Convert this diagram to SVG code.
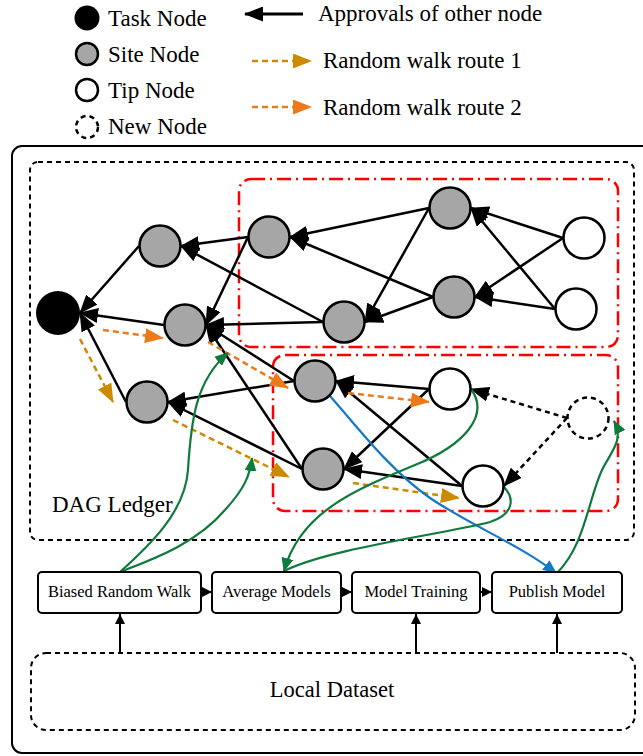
<svg xmlns="http://www.w3.org/2000/svg" width="643" height="756" viewBox="0 0 643 756">
<style>
text{font-family:"Liberation Serif","Times New Roman",serif;fill:#000}
.lg{font-size:23px}
.bx{font-size:16.5px}
.site{fill:#a6a6a6;stroke:#000;stroke-width:2.5}
.tip{fill:#fff;stroke:#000;stroke-width:2.5}
.newn{fill:#fff;stroke:#000;stroke-width:2.5;stroke-dasharray:5 4}
.ap{stroke:#000;stroke-width:2.5;fill:none;marker-end:url(#ah)}
.apd{stroke:#000;stroke-width:2.5;fill:none;stroke-dasharray:5 4;marker-end:url(#ah)}
.r1{stroke:#cc8a00;stroke-width:2.5;fill:none;stroke-dasharray:6 4;marker-end:url(#a1)}
.r2{stroke:#ec7a1a;stroke-width:2.5;fill:none;stroke-dasharray:6 4;marker-end:url(#a2)}
.gr{stroke:#0e7a3c;stroke-width:2.2;fill:none}
.bl{stroke:#1478c8;stroke-width:2.2;fill:none}
.red{fill:none;stroke:#ff0000;stroke-width:2.5;stroke-dasharray:14 5 2 5}
.box{fill:#fff;stroke:#000;stroke-width:2}
.sm{stroke:#000;stroke-width:2;fill:none;marker-end:url(#as)}
</style>
<defs>
<marker id="ah" markerUnits="userSpaceOnUse" markerWidth="19" markerHeight="15" refX="18" refY="7.5" orient="auto"><path d="M0,0 L19,7.5 L0,15 z" fill="#000"/></marker>
<marker id="a1" markerUnits="userSpaceOnUse" markerWidth="19" markerHeight="15" refX="18" refY="7.5" orient="auto"><path d="M0,0 L19,7.5 L0,15 z" fill="#cc8a00"/></marker>
<marker id="a2" markerUnits="userSpaceOnUse" markerWidth="19" markerHeight="15" refX="18" refY="7.5" orient="auto"><path d="M0,0 L19,7.5 L0,15 z" fill="#ec7a1a"/></marker>
<marker id="ag" markerUnits="userSpaceOnUse" markerWidth="14" markerHeight="12" refX="13" refY="6" orient="auto"><path d="M0,0 L14,6 L0,12 z" fill="#0e7a3c"/></marker>
<marker id="ab" markerUnits="userSpaceOnUse" markerWidth="14" markerHeight="12" refX="13" refY="6" orient="auto"><path d="M0,0 L14,6 L0,12 z" fill="#1478c8"/></marker>
<marker id="as" markerUnits="userSpaceOnUse" markerWidth="10" markerHeight="10" refX="10" refY="5" orient="auto"><path d="M0,0 L10,5 L0,10 z" fill="#000"/></marker>
</defs>

<g id="legend">
<circle cx="87" cy="18" r="12.5" fill="#000"/>
<text class="lg" x="108" y="26">Task Node</text>
<circle cx="87" cy="54" r="11" class="site" stroke-width="3"/>
<text class="lg" x="108" y="62">Site Node</text>
<circle cx="87" cy="90" r="11" class="tip" stroke-width="3"/>
<text class="lg" x="108" y="98">Tip Node</text>
<circle cx="87" cy="127" r="11" class="newn" stroke-width="3"/>
<text class="lg" x="108" y="134">New Node</text>
<line x1="303" y1="14" x2="245" y2="14" stroke="#000" stroke-width="3" marker-end="url(#ah)"/>
<text class="lg" x="318" y="21">Approvals of other node</text>
<line x1="252" y1="61" x2="311" y2="61" class="r1"/>
<text class="lg" x="323" y="68">Random walk route 1</text>
<line x1="252" y1="107" x2="311" y2="107" class="r2"/>
<text class="lg" x="323" y="115">Random walk route 2</text>
</g>

<g id="frame">
<rect x="12" y="146" width="645" height="607" rx="10" fill="none" stroke="#000" stroke-width="2"/>
</g>
<g id="dag-ledger">
<rect x="30" y="162" width="604" height="378" rx="8" fill="none" stroke="#000" stroke-width="2" stroke-dasharray="5 4"/>
<text class="lg" x="52" y="512">DAG Ledger</text>
</g>
<g id="region1"><rect x="239" y="179" width="379" height="168" rx="12" class="red"/></g>
<g id="region2"><rect x="273" y="355" width="345" height="156" rx="12" class="red"/></g>

<g id="connectors">
<line class="ap" x1="139" y1="246" x2="80" y2="313"/>
<line class="ap" x1="164" y1="325" x2="80" y2="313"/>
<line class="ap" x1="126" y1="402" x2="80" y2="313"/>
<line class="ap" x1="248" y1="237" x2="181" y2="246"/>
<line class="ap" x1="323" y1="322" x2="181" y2="246"/>
<line class="ap" x1="248" y1="237" x2="206" y2="325"/>
<line class="ap" x1="323" y1="322" x2="206" y2="325"/>
<line class="ap" x1="294" y1="381" x2="206" y2="325"/>
<line class="ap" x1="302" y1="469" x2="206" y2="325"/>
<line class="ap" x1="429" y1="208" x2="290" y2="237"/>
<line class="ap" x1="433" y1="297" x2="290" y2="237"/>
<line class="ap" x1="429" y1="208" x2="365" y2="322"/>
<line class="ap" x1="433" y1="297" x2="365" y2="322"/>
<line class="ap" x1="563" y1="238" x2="471" y2="208"/>
<line class="ap" x1="555" y1="309" x2="471" y2="208"/>
<line class="ap" x1="563" y1="238" x2="475" y2="297"/>
<line class="ap" x1="555" y1="309" x2="475" y2="297"/>
<line class="ap" x1="294" y1="381" x2="168" y2="402"/>
<line class="ap" x1="302" y1="469" x2="168" y2="402"/>
<line class="ap" x1="429" y1="389" x2="336" y2="381"/>
<line class="ap" x1="462" y1="486" x2="336" y2="381"/>
<line class="ap" x1="429" y1="389" x2="344" y2="469"/>
<line class="ap" x1="462" y1="486" x2="344" y2="469"/>
<line class="apd" x1="567" y1="418" x2="471" y2="389"/>
<line class="apd" x1="567" y1="418" x2="504" y2="486"/>

<line class="r1" x1="80" y1="339" x2="113" y2="402"/>
<line class="r1" x1="173" y1="420" x2="289" y2="477"/>
<line class="r1" x1="353" y1="483" x2="459" y2="498"/>
<line class="r2" x1="103" y1="330" x2="163" y2="338"/>
<line class="r2" x1="208" y1="342" x2="288" y2="388"/>
<line class="r2" x1="348" y1="393" x2="429" y2="402"/>

<path class="bl" d="M330,396 C360,430 390,470 430,498 C470,525 520,545 556,573" marker-end="url(#ab)"/>
<path class="gr" d="M120,572 C150,545 185,512 188,470 C191,420 196,380 228,353" marker-end="url(#ag)"/>
<path class="gr" d="M120,572 C150,560 195,545 225,510 C245,488 250,475 252,458" marker-end="url(#ag)"/>
<path class="gr" d="M471,389 C490,415 465,445 415,465 C355,490 300,512 284,571" marker-end="url(#ag)"/>
<path class="gr" d="M504,487 C516,500 512,515 490,522 C440,535 330,548 284,571"/>
<path class="gr" d="M557,573 C585,545 588,500 602,470 C612,450 624,440 614,421" marker-end="url(#ag)"/>

<line class="sm" x1="201" y1="592" x2="212" y2="592"/>
<line class="sm" x1="341" y1="592" x2="352" y2="592"/>
<line class="sm" x1="480" y1="592" x2="492" y2="592"/>
<line class="sm" x1="120" y1="653" x2="120" y2="614"/>
<line class="sm" x1="416" y1="653" x2="416" y2="614"/>
<line class="sm" x1="557" y1="653" x2="557" y2="614"/>
</g>

<g id="N0"><circle cx="58" cy="313" r="22" fill="#000"/></g>
<g id="S1"><circle cx="160" cy="246" r="20.5" class="site"/></g>
<g id="S2"><circle cx="269" cy="237" r="20.5" class="site"/></g>
<g id="S3"><circle cx="185" cy="325" r="20.5" class="site"/></g>
<g id="S4"><circle cx="450" cy="208" r="20.5" class="site"/></g>
<g id="S5"><circle cx="454" cy="297" r="20.5" class="site"/></g>
<g id="S6"><circle cx="344" cy="322" r="20.5" class="site"/></g>
<g id="T1"><circle cx="584" cy="238" r="20.5" class="tip"/></g>
<g id="T2"><circle cx="576" cy="309" r="20.5" class="tip"/></g>
<g id="S7"><circle cx="147" cy="402" r="20.5" class="site"/></g>
<g id="S8"><circle cx="315" cy="381" r="20.5" class="site"/></g>
<g id="S9"><circle cx="323" cy="469" r="20.5" class="site"/></g>
<g id="T3"><circle cx="450" cy="389" r="20.5" class="tip"/></g>
<g id="T4"><circle cx="483" cy="486" r="20.5" class="tip"/></g>
<g id="NEW"><circle cx="588" cy="418" r="20.5" class="newn"/></g>

<g id="brw"><rect x="38" y="572" width="163" height="41" rx="4" class="box"/><text class="bx" x="119.5" y="597" text-anchor="middle">Biased Random Walk</text></g>
<g id="am"><rect x="212" y="572" width="129" height="41" rx="4" class="box"/><text class="bx" x="276.5" y="597" text-anchor="middle">Average Models</text></g>
<g id="mt"><rect x="352" y="572" width="128" height="41" rx="4" class="box"/><text class="bx" x="416" y="597" text-anchor="middle">Model Training</text></g>
<g id="pm"><rect x="492" y="572" width="130" height="41" rx="4" class="box"/><text class="bx" x="557" y="597" text-anchor="middle">Publish Model</text></g>
<g id="local"><rect x="31" y="653" width="604" height="77" rx="15" fill="none" stroke="#000" stroke-width="2" stroke-dasharray="5 4"/><text x="332" y="697" text-anchor="middle" font-size="22.5">Local Dataset</text></g>
</svg>
